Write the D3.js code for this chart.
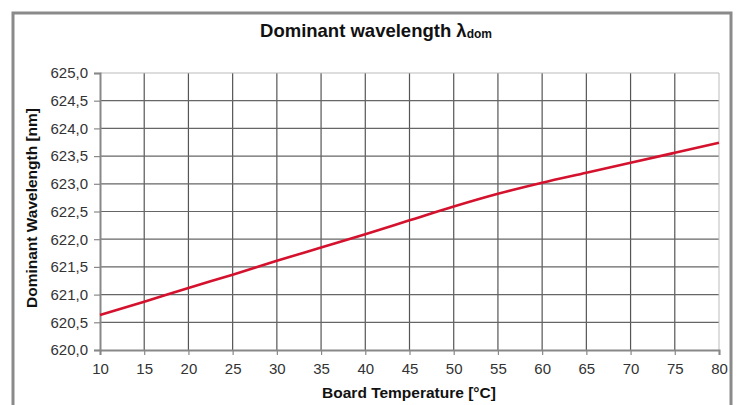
<!DOCTYPE html>
<html><head><meta charset="utf-8">
<script src="https://cdn.jsdelivr.net/npm/d3@7"></script>
<style>body{margin:0;background:#fff}svg{display:block}text{font-family:"Liberation Sans",Arial,sans-serif}</style>
</head><body>
<svg id="c" width="739" height="405"></svg>
<script>
const temps = [10,15,20,25,30,35,40,45,50,55,60,65,70,75,80];
const wavelength = [620.63,620.87,621.12,621.36,621.61,621.85,622.09,622.34,622.59,622.82,623.02,623.20,623.38,623.56,623.74];
const xTicks = [10,15,20,25,30,35,40,45,50,55,60,65,70,75,80];
const yTicks = [620,620.5,621,621.5,622,622.5,623,623.5,624,624.5,625];

const svg = d3.select("#c");
const m = {l:100, r:719, t:73, b:350};
const x = d3.scaleLinear().domain([10,80]).range([m.l,m.r]);
const y = d3.scaleLinear().domain([620,625]).range([m.b,m.t]);

// frame
svg.append("rect").attr("x",13).attr("y",13).attr("width",718).attr("height",420)
  .attr("fill","#fff").attr("stroke","#8a8a8a").attr("stroke-width",3);

// title
const t = svg.append("text").attr("x",376).attr("y",37).attr("text-anchor","middle")
  .attr("font-size",18.5).attr("font-weight","bold").attr("fill","#111");
t.append("tspan").text("Dominant wavelength λ");
t.append("tspan").attr("font-size",12).attr("dy",1).text("dom");

// grid
const g = svg.append("g");
g.selectAll(".vg").data(xTicks.slice(1,-1)).join("line")
  .attr("x1",d=>x(d)).attr("x2",d=>x(d)).attr("y1",m.t).attr("y2",m.b)
  .attr("stroke","#555").attr("stroke-width",1.2);
g.selectAll(".hg").data(yTicks.slice(1,-1)).join("line")
  .attr("x1",m.l).attr("x2",m.r).attr("y1",d=>y(d)).attr("y2",d=>y(d))
  .attr("stroke","#666").attr("stroke-width",1.2);
g.append("line").attr("x1",m.l).attr("x2",m.r).attr("y1",m.t).attr("y2",m.t).attr("stroke","#bbb");
g.append("line").attr("x1",m.r).attr("x2",m.r).attr("y1",m.t).attr("y2",m.b).attr("stroke","#bbb");

// axes
const fmt = d3.format(".1f");
const ya = svg.append("g").attr("transform",`translate(${m.l},0)`)
  .call(d3.axisLeft(y).tickValues(yTicks).tickSize(6).tickPadding(6).tickFormat(d=>fmt(d).replace(".",",")));
const xa = svg.append("g").attr("transform",`translate(0,${m.b})`)
  .call(d3.axisBottom(x).tickValues(xTicks).tickSize(5).tickPadding(8));
[ya,xa].forEach(a=>{
  a.select(".domain").attr("stroke","#888").attr("stroke-width",2);
  a.selectAll(".tick line").attr("stroke","#888").attr("stroke-width",1.2);
  a.selectAll(".tick text").attr("font-size",15).attr("fill","#333").attr("font-family","Liberation Sans, Arial, sans-serif");
});

// curve
svg.append("path").datum(temps.map((d,i)=>[d,wavelength[i]]))
  .attr("fill","none").attr("stroke","#d4122e").attr("stroke-width",2.6)
  .attr("d",d3.line().x(d=>x(d[0])).y(d=>y(d[1])).curve(d3.curveMonotoneX));

// axis titles
svg.append("text").attr("x",409).attr("y",398).attr("text-anchor","middle")
  .attr("font-size",15.5).attr("font-weight","bold").attr("fill","#111").text("Board Temperature [°C]");
svg.append("text").attr("transform","translate(37,208) rotate(-90)").attr("text-anchor","middle")
  .attr("font-size",15.5).attr("font-weight","bold").attr("fill","#111").text("Dominant Wavelength [nm]");
</script>
</body></html>
